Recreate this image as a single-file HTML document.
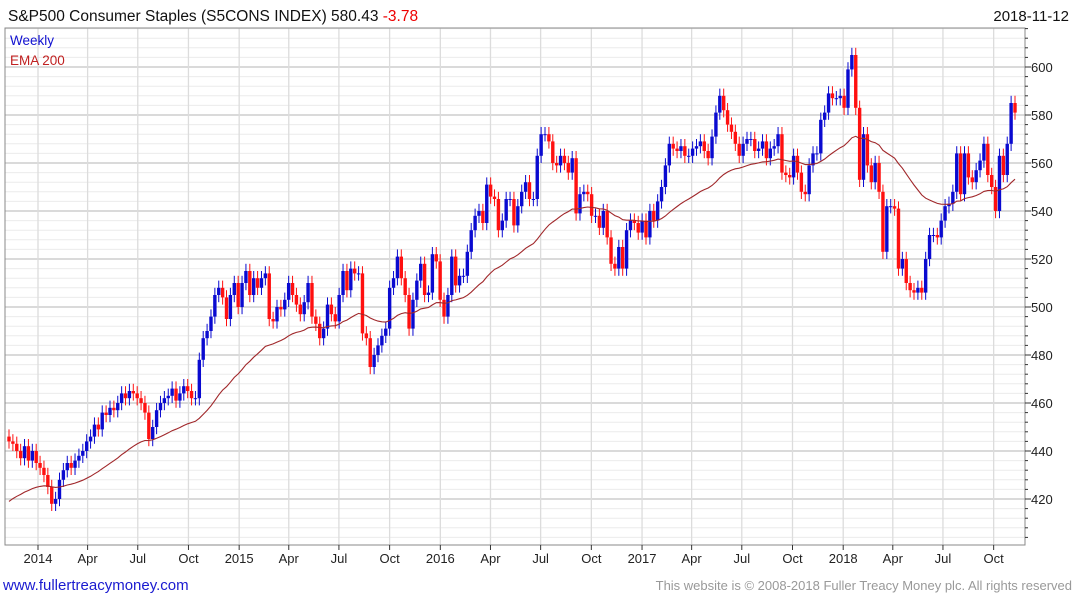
<!DOCTYPE html>
<html><head><meta charset="utf-8">
<style>
body{margin:0;background:#fff;width:1075px;height:600px;overflow:hidden;font-family:"Liberation Sans",sans-serif;}
svg{display:block}
</style></head>
<body>
<svg id="chart" width="1075" height="600" xmlns="http://www.w3.org/2000/svg">
  <rect x="0" y="0" width="1075" height="600" fill="#fff"/>
  <g id="grid"></g>
  <g id="marks"></g>
  <path id="ema" fill="none" stroke="#a0272a" stroke-width="1.1"/>
  <rect x="5" y="28" width="1020" height="517" fill="none" stroke="#888" stroke-width="1"/>
  <g id="axes"></g>
  <text x="8" y="21" font-size="15.5" fill="#111">S&amp;P500 Consumer Staples (S5CONS INDEX) 580.43 <tspan fill="#e00">-3.78</tspan></text>
  <text x="1069" y="21" font-size="15" fill="#111" text-anchor="end">2018-11-12</text>
  <text x="10" y="45" font-size="13.5" fill="#1010d0">Weekly</text>
  <text x="10" y="65" font-size="13.5" fill="#c02020">EMA 200</text>
  <text x="3" y="590" font-size="15" fill="#1a1ad0">www.fullertreacymoney.com</text>
  <text x="1072" y="590" font-size="13" fill="#999" text-anchor="end">This website is © 2008-2018 Fuller Treacy Money plc. All rights reserved</text>
</svg>
<script>
const closes = [
444,443,440,437,442,436,440,435,433,430,
425,418,420,428,432,435,433,436,438,440,
444,446,451,449,456,455,458,457,460,464,
462,465,464,462,460,456,445,450,457,460,
462,463,466,461,464,467,465,462,462,478,
487,490,496,505,508,504,495,505,510,500,
510,515,505,512,508,512,514,
495,494,500,499,503,510,505,501,497,502,
510,496,493,487,491,501,497,494,505,515,
507,516,514,514,489,487,475,480,484,488,
491,508,512,521,512,505,491,503,511,518,
505,506,522,519,503,496,505,521,509,513,
513,523,532,538,540,535,551,546,545,532,
536,545,545,534,542,548,552,545,
545,563,572,572,569,560,559,563,560,556,
562,539,547,548,547,538,538,533,540,529,
518,516,525,516,532,536,535,531,536,529,
540,536,544,550,559,568,566,565,567,563,
563,566,567,569,565,562,571,581,588,
582,576,573,568,563,568,570,570,565,566,569,562,566,567,572,
556,555,554,563,556,548,547,559,564,564,
578,581,589,587,587,588,583,599,605,583,
553,572,559,552,560,548,523,542,542,541,
516,520,510,507,506,508,506,520,530,530,
529,536,542,543,548,564,547,564,554,552,
557,561,568,555,550,540,563,555,568,585,
581
];
const firstOpen = 446;
const emaSeed = 419;
const emaPeriod = 40;
const yTicks = [420,440,460,480,500,520,540,560,580,600];
const xTickLabels = ["2014","Apr","Jul","Oct","2015","Apr","Jul","Oct","2016","Apr","Jul","Oct","2017","Apr","Jul","Oct","2018","Apr","Jul","Oct"];
const xTickDates = ["2014-01-01","2014-04-01","2014-07-01","2014-10-01","2015-01-01","2015-04-01","2015-07-01","2015-10-01","2016-01-01","2016-04-01","2016-07-01","2016-10-01","2017-01-01","2017-04-01","2017-07-01","2017-10-01","2018-01-01","2018-04-01","2018-07-01","2018-10-01"];

const NS="http://www.w3.org/2000/svg";
const L=5,R=1025,T=28,B=545;
function y(v){return 67+(600-v)*2.4;}
const n=closes.length;
function xi(i){return 9+i*(1015-9)/(n-1);}
function xd(s){const d=(new Date(s)-new Date("2014-01-01"))/86400000;return 38+d/365.25*201.3;}
function mk(tag,attrs,parent){const e=document.createElementNS(NS,tag);for(const k in attrs)e.setAttribute(k,attrs[k]);parent.appendChild(e);return e;}

const grid=document.getElementById('grid'),axes=document.getElementById('axes'),marks=document.getElementById('marks');
for(let v=404;v<=616;v+=4){
  const yy=y(v); if(yy<T||yy>B)continue;
  const major=v%20===0;
  const ln=mk('line',{x1:L,x2:R,y1:yy,y2:yy,stroke:major?'#c4c4c4':'#ececec','stroke-width':major?1.3:1},grid);
  
  
  const tk=mk('line',{x1:R,x2:R+(major?6:3),y1:yy,y2:yy,stroke:'#333','stroke-width':1},axes);
  
  
}
yTicks.forEach(v=>{
  const t=mk('text',{x:1031,y:y(v)+5,'font-size':13,fill:'#222'},axes);
  t.textContent=v;
  
  
});
xTickDates.forEach((d,k)=>{
  const xx=xd(d);
  const ln=mk('line',{x1:xx,x2:xx,y1:T,y2:B,stroke:'#dcdcdc','stroke-width':1.3},grid);
  
  
  const tk=mk('line',{x1:xx,x2:xx,y1:B,y2:B+5,stroke:'#333'},axes);
  
  
  const t=mk('text',{x:xx,y:563,'font-size':13,fill:'#222','text-anchor':'middle'},axes);
  t.textContent=xTickLabels[k];
  
  
});
let prev=firstOpen;
for(let i=0;i<n;i++){
  const o=prev,c=closes[i];
  const up=c>=o, col=up?'#0a0ad0':'#ff1010';
  const hi=Math.max(o,c)+3,lo=Math.min(o,c)-3;
  const xx=xi(i);
  const w=mk('line',{x1:xx,x2:xx,y1:y(hi),y2:y(lo),stroke:col,'stroke-width':1},marks);
  
  
  const top=y(Math.max(o,c)),h=Math.max(1,y(Math.min(o,c))-top);
  const b=mk('rect',{x:xx-1.7,y:top,width:3.4,height:h,fill:col},marks);
  
  
  prev=c;
}
const a=2/(emaPeriod+1);let e=emaSeed,d='';
for(let i=0;i<n;i++){e=i===0?emaSeed:e+a*(closes[i]-e);d+=(i?'L':'M')+xi(i).toFixed(1)+' '+y(e).toFixed(1);}
document.getElementById('ema').setAttribute('d',d);
</script>
</body></html>
